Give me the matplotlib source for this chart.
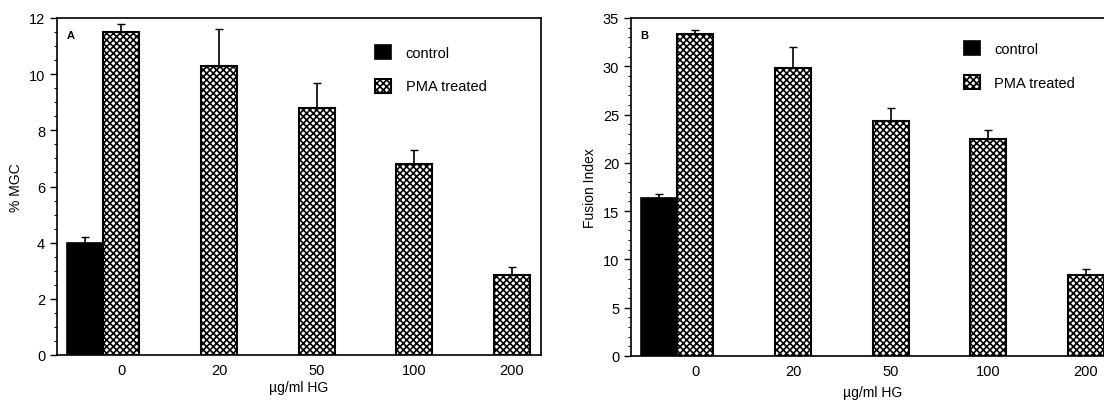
import numpy as np
import matplotlib.pyplot as plt
from matplotlib.ticker import MultipleLocator

plt.rcParams['font.family'] = ['Liberation Sans', 'DejaVu Sans']
plt.rcParams['hatch.linewidth'] = 1.2

doses = ["0", "20", "50", "100", "200"]

# panel A: % MGC
mgc_control = [4.0]
mgc_control_err = [0.2]
mgc_pma = [11.5, 10.3, 8.8, 6.8, 2.85]
mgc_pma_err = [0.3, 1.3, 0.9, 0.5, 0.3]

# panel B: fusion index
fus_control = [16.4]
fus_control_err = [0.4]
fus_pma = [33.3, 29.8, 24.3, 22.5, 8.4]
fus_pma_err = [0.5, 2.2, 1.4, 0.9, 0.6]

fig = plt.figure(figsize=(11.04, 4.02), dpi=100)
W, H = 1104, 402
axA = fig.add_axes([57 / W, 1 - 356 / H, 484 / W, 337 / H])
axB = fig.add_axes([631 / W, 1 - 357 / H, 484 / W, 338 / H])

x = np.arange(len(doses))
w = 0.37


def panel(ax, ctrl, ctrl_err, pma, pma_err, ymax, major, minor, ylabel, letter,
          leg_x, leg_y, xlab_pad):
    ax.bar([-w], ctrl, w, color="black", edgecolor="black", linewidth=1.2,
           label="control")
    ax.bar(x, pma, w, color="white", edgecolor="black", hatch="xxxxx",
           linewidth=1.5, label="PMA treated")
    ax.errorbar([-w], ctrl, yerr=[[0], ctrl_err], fmt="none", ecolor="black",
                elinewidth=1.2, capsize=3)
    ax.errorbar(x, pma, yerr=[np.zeros(len(pma)), pma_err], fmt="none",
                ecolor="black", elinewidth=1.2, capsize=3)
    ax.set_xlim(-0.66, 4.3)
    ax.set_ylim(0, ymax)
    ax.set_xticks(x)
    ax.set_xticklabels(doses, fontsize=10.5)
    ax.yaxis.set_major_locator(MultipleLocator(major))
    ax.yaxis.set_minor_locator(MultipleLocator(minor))
    ax.tick_params(axis="x", length=0, pad=6)
    ax.tick_params(axis="y", which="major", length=5, width=1, labelsize=10.5)
    ax.tick_params(axis="y", which="minor", length=2.5, width=0.8)
    for s in ax.spines.values():
        s.set_linewidth(1.2)
    ax.set_ylabel(ylabel, fontsize=10)
    ax.set_xlabel("µg/ml HG", fontsize=10, labelpad=xlab_pad)
    ax.text(0.02, 0.95, letter, transform=ax.transAxes, fontsize=8,
            fontweight="bold", va="center", ha="left")
    ax.legend(loc="upper left", bbox_to_anchor=(leg_x, leg_y), frameon=False,
              fontsize=10.5, handlelength=1.1, handleheight=1.1,
              labelspacing=1.3, handletextpad=1.0)


panel(axA, mgc_control, mgc_control_err, mgc_pma, mgc_pma_err, 12, 2, 0.5,
      "% MGC", "A", 0.63, 0.96, 2)
panel(axB, fus_control, fus_control_err, fus_pma, fus_pma_err, 35, 5, 1,
      "Fusion Index", "B", 0.66, 0.97, 5)

fig.savefig("out.png", dpi=100)
